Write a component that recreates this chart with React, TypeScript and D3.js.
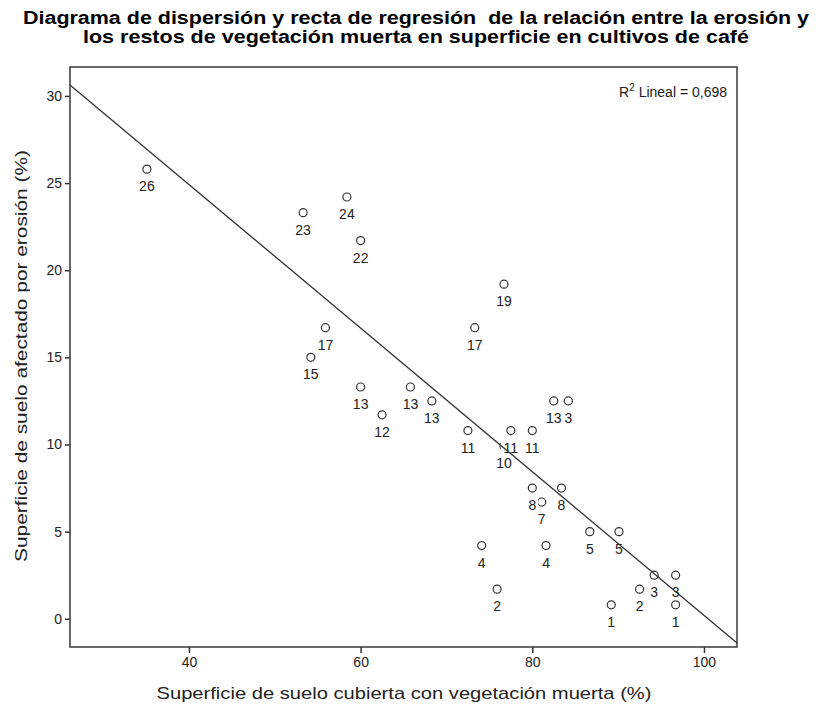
import React, { useEffect, useRef } from 'react';
import * as d3 from 'd3';

// Case number of each plot (label shown under the marker)
const caseLabels = ['26', '23', '24', '22', '19', '17', '17', '15', '13', '13', '13', '12',
  '11', '10', '11', '11', '13', '3', '8', '7', '8', '5', '5', '4', '4', '3', '3', '2', '2', '1', '1'];
// Superficie de suelo cubierta con vegetación muerta (%)
const vegCover = [35.1, 53.3, 58.4, 60.0, 76.7, 55.9, 73.3, 54.2, 60.0, 65.8, 68.3, 62.5,
  72.5, 76.7, 77.5, 80.0, 82.5, 84.2, 80.0, 81.1, 83.4, 86.7, 90.1, 74.1, 81.6, 94.2, 96.7, 75.9, 92.5, 89.2, 96.7];
// Superficie de suelo afectado por erosión (%)
const erosion = [25.8, 23.3, 24.2, 21.7, 19.2, 16.7, 16.7, 15.0, 13.3, 13.3, 12.5, 11.7,
  10.8, 9.9, 10.8, 10.8, 12.5, 12.5, 7.5, 6.7, 7.5, 5.0, 5.0, 4.2, 4.2, 2.5, 2.5, 1.7, 1.7, 0.8, 0.8];

const xTicks = [40, 60, 80, 100];
const yTicks = [0, 5, 10, 15, 20, 25, 30];

// fitted line
const fitIntercept = 41.4;
const fitSlope = -0.412;
const rSquaredText = '0,698';

const titleLines = [
  'Diagrama de dispersión y recta de regresión  de la relación entre la erosión y',
  'los restos de vegetación muerta en superficie en cultivos de café',
];

function App() {
  const ref = useRef<SVGSVGElement>(null);

  useEffect(() => {
    const width = 829, height = 712;
    const margin = { left: 70, right: 92, top: 67, bottom: 65 };
    const font = "Arial, 'Liberation Sans', sans-serif";
    const ink = '#333';

    const svg = d3.select(ref.current);
    svg.selectAll('*').remove();

    const x = d3.scaleLinear().domain([26.14, 103.85]).range([margin.left, width - margin.right]);
    const y = d3.scaleLinear().domain([-1.62, 31.66]).range([height - margin.bottom, margin.top]);

    // title (stretched to the width of the original)
    const titleWidths = [786, 666];
    svg.append('g').selectAll('text')
      .data(titleLines)
      .enter().append('text')
      .attr('x', 416)
      .attr('y', (d, i) => 24 + i * 19)
      .attr('text-anchor', 'middle')
      .attr('textLength', (d, i) => titleWidths[i])
      .attr('lengthAdjust', 'spacingAndGlyphs')
      .style('white-space', 'pre')
      .style('font-family', font)
      .style('font-weight', 'bold')
      .style('font-size', '18px')
      .text(d => d);

    // y axis
    const yAxis = svg.append('g')
      .attr('transform', 'translate(' + margin.left + ',0)')
      .call(d3.axisLeft(y).tickValues(yTicks).tickSize(5).tickPadding(3).tickFormat(d3.format('d')));
    // x axis
    const xAxis = svg.append('g')
      .attr('transform', 'translate(0,' + (height - margin.bottom) + ')')
      .call(d3.axisBottom(x).tickValues(xTicks).tickSize(6).tickPadding(4).tickFormat(d3.format('d')));
    [xAxis, yAxis].forEach(a => {
      a.select('.domain').remove();
      a.selectAll('line').attr('stroke', ink).attr('stroke-width', 1.5);
      a.selectAll('text').style('font-family', font).style('font-size', '14px').attr('fill', '#222');
    });

    // plot frame
    svg.append('rect')
      .attr('x', margin.left)
      .attr('y', margin.top)
      .attr('width', width - margin.left - margin.right)
      .attr('height', height - margin.top - margin.bottom)
      .attr('fill', 'none')
      .attr('stroke', '#444')
      .attr('stroke-width', 1.6);

    // axis titles
    svg.append('text')
      .attr('x', 404)
      .attr('y', 699)
      .attr('text-anchor', 'middle')
      .attr('textLength', 495)
      .attr('lengthAdjust', 'spacingAndGlyphs')
      .style('font-family', font)
      .style('font-size', '17px')
      .attr('fill', '#222')
      .text('Superficie de suelo cubierta con vegetación muerta (%)');
    svg.append('text')
      .attr('transform', 'translate(27,356) rotate(-90)')
      .attr('text-anchor', 'middle')
      .attr('textLength', 412)
      .attr('lengthAdjust', 'spacingAndGlyphs')
      .style('font-family', font)
      .style('font-size', '17px')
      .attr('fill', '#222')
      .text('Superficie de suelo afectado por erosión (%)');

    const data = caseLabels.map((label, i) => ({ label, vx: vegCover[i], er: erosion[i] }));

    // markers
    svg.append('g').selectAll('circle')
      .data(data)
      .enter().append('circle')
      .attr('cx', d => x(d.vx))
      .attr('cy', d => y(d.er))
      .attr('r', 4)
      .attr('fill', 'white')
      .attr('stroke', ink)
      .attr('stroke-width', 1.2);

    // case labels with white background
    const lab = svg.append('g').selectAll('g')
      .data(data)
      .enter().append('g')
      .attr('transform', d => 'translate(' + x(d.vx) + ',' + (y(d.er) + 17) + ')');
    lab.append('rect')
      .attr('x', d => -d.label.length * 4 - 2)
      .attr('y', -8)
      .attr('width', d => d.label.length * 8 + 4)
      .attr('height', 16)
      .attr('fill', 'white');
    lab.append('text')
      .attr('text-anchor', 'middle')
      .attr('dy', '0.36em')
      .style('font-family', font)
      .style('font-size', '14px')
      .attr('fill', '#222')
      .text(d => d.label);

    // regression line
    const [x0, x1] = x.domain();
    svg.append('line')
      .attr('x1', x(x0))
      .attr('y1', y(fitIntercept + fitSlope * x0))
      .attr('x2', x(x1))
      .attr('y2', y(fitIntercept + fitSlope * x1))
      .attr('stroke', ink)
      .attr('stroke-width', 1.3);

    // R squared note
    const r2 = svg.append('text')
      .attr('x', 727)
      .attr('y', 97)
      .attr('text-anchor', 'end')
      .style('font-family', font)
      .style('font-size', '14px')
      .attr('fill', '#222');
    r2.append('tspan').text('R');
    r2.append('tspan').attr('dy', -6).style('font-size', '10px').text('2');
    r2.append('tspan').attr('dy', 6).text(' Lineal = ' + rSquaredText);
  }, []);

  return (
    <div style={{ position: 'absolute', left: 0, top: 0, background: 'white' }}>
      <svg ref={ref} width={829} height={712} style={{ display: 'block' }}></svg>
    </div>
  );
}

export default App;
